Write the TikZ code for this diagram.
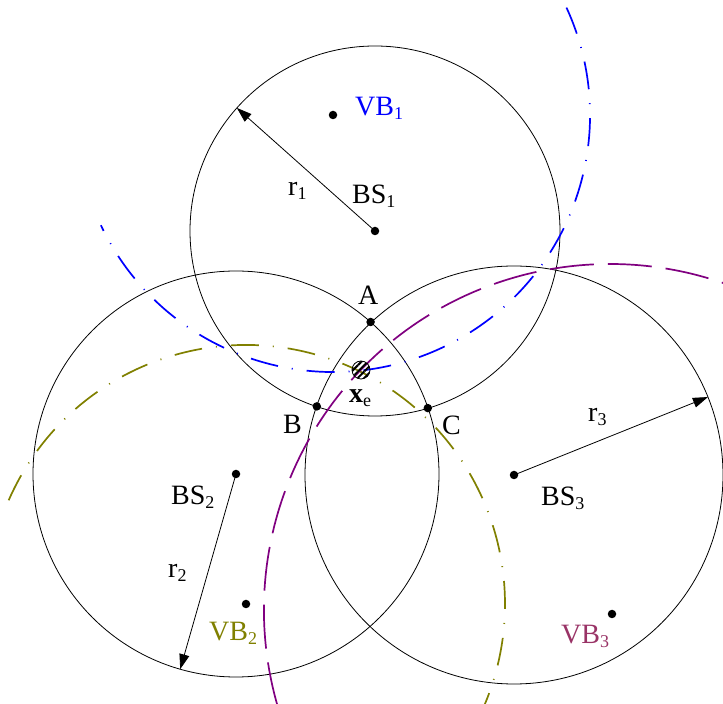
\documentclass[tikz,border=0pt]{standalone}
\usepackage{fontspec}
\setmainfont{Liberation Serif}
\usetikzlibrary{arrows.meta,patterns.meta,calc}
\definecolor{vbone}{rgb}{0,0,1}
\definecolor{vbtwo}{rgb}{0.5,0.5,0}
\definecolor{vbthree}{rgb}{0.5,0,0.5}
\definecolor{vbthreetxt}{rgb}{0.6,0.2,0.4}
\newcommand{\lowsub}[1]{\raisebox{-4pt}{\fontsize{18}{18}\selectfont #1}}
\begin{document}
\begin{tikzpicture}[x=1pt,y=1pt,
  lbl/.style={anchor=base west,inner sep=0pt,font=\fontsize{28}{30}\selectfont},
  bscircle/.style={draw=black,line width=0.8pt},
  dotmark/.style={circle,fill=black,inner sep=0pt,minimum size=8.5pt},
  radarrow/.style={draw=black,line width=0.8pt,-{Triangle[length=15pt,width=10pt]}},
  bluearc/.style={draw=vbone,line width=1.7pt,dash pattern=on 28pt off 14pt on 1pt off 14pt},
  olivearc/.style={draw=vbtwo,line width=1.7pt,dash pattern=on 28pt off 14pt on 1pt off 14pt},
  purplearc/.style={draw=vbthree,line width=1.7pt,dash pattern=on 44pt off 14pt}]
\useasboundingbox (0,0) rectangle (723,704);
\clip (0,0) rectangle (723,704);
% centres
\coordinate (BS1) at (375,473);
\coordinate (BS2) at (236,230);
\coordinate (BS3) at (514,229);
\coordinate (VB1) at (333,589);
\coordinate (VB2) at (246,100);
\coordinate (VB3) at (612,90);
\coordinate (P3) at (610,94);
% circles
\draw[bscircle] (BS1) circle (185);
\draw[bscircle] (BS2) circle (203);
\draw[bscircle] (BS3) circle (209);
% coloured arcs
\draw[bluearc] ($(VB1)+(384.7:257)$) arc[start angle=384.7,end angle=205.4,radius=257];
\draw[olivearc] ($(VB2)+(156.4:259)$) arc[start angle=156.4,end angle=-24,radius=259];
\draw[purplearc] ($(P3)+(196:346)$) arc[start angle=196,end angle=68,radius=346];
% radius arrows
\coordinate (T1) at ($(BS1)+(138.3:185)$);
\coordinate (T2) at ($(BS2)+(254.05:203)$);
\coordinate (T3) at ($(BS3)+(21.9:209)$);
\draw[radarrow] (BS1) -- (T1);
\draw[radarrow] (BS2) -- (T2);
\draw[radarrow] (BS3) -- (T3);
% dots
\node[dotmark] (dBS1) at (BS1) {};
\node[dotmark] (dBS2) at (BS2) {};
\node[dotmark] (dBS3) at (BS3) {};
\node[dotmark] (dVB1) at (VB1) {};
\node[dotmark] (dVB2) at (VB2) {};
\node[dotmark] (dVB3) at (VB3) {};
\node[dotmark] (A) at (370.6,382) {};
\node[dotmark] (B) at (316.8,297.6) {};
\node[dotmark] (C) at (427.8,295.9) {};
% estimated position
\node[circle,draw=black,line width=0.8pt,minimum size=18pt,inner sep=0pt,
  pattern={Lines[angle=45,distance=4.5pt,line width=2pt]}] (xe) at (361,334) {};
% labels
\node[lbl,text=vbone] (lVB1) at (355,588) {VB\lowsub{1}};
\node[lbl] (lBS1) at (352,500) {BS\lowsub{1}};
\node[lbl] (lr1) at (288,508) {r\lowsub{1}};
\node[lbl] (lA) at (358,399) {A};
\node[lbl] (lB) at (283,270) {B};
\node[lbl] (lC) at (442,269) {C};
\node[lbl] (lxe) at (349,301) {\textbf{x}\lowsub{e}};
\node[lbl] (lBS2) at (171,199) {BS\lowsub{2}};
\node[lbl] (lr2) at (168,126) {r\lowsub{2}};
\node[lbl,text=vbtwo] (lVB2) at (209,63) {VB\lowsub{2}};
\node[lbl] (lBS3) at (541,198) {BS\lowsub{3}};
\node[lbl] (lr3) at (588,282) {r\lowsub{3}};
\node[lbl,text=vbthreetxt] (lVB3) at (561,60) {VB\lowsub{3}};
\end{tikzpicture}
\end{document}
